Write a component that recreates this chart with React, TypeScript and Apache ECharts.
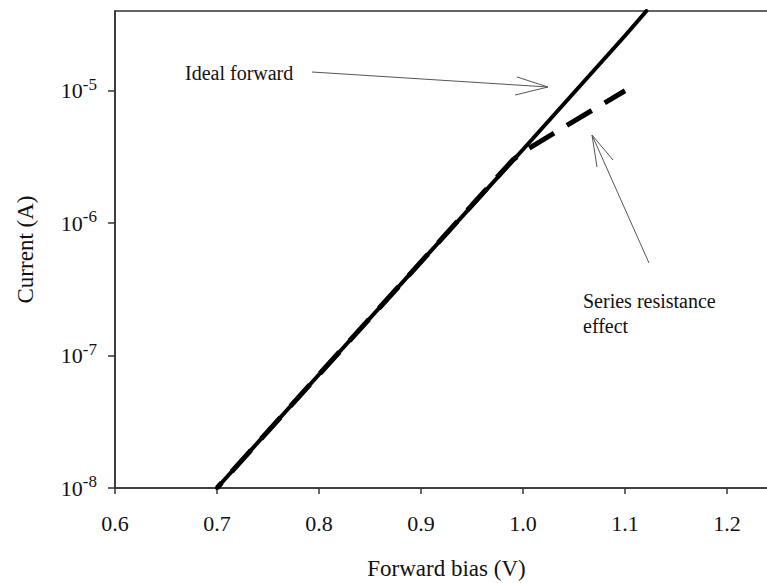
import React, { useEffect, useRef } from "react";
import * as echarts from "echarts";

// Forward bias (V) and diode current (A)
const idealBias = [0.7, 0.8, 0.9, 1.0, 1.1, 1.121];
const idealCurrent = [1e-8, 7.2e-8, 5.1e-7, 3.6e-6, 2.6e-5, 4.0e-5];

const resistiveBias = [0.7, 0.8, 0.9, 0.95, 0.99, 1.0, 1.05, 1.1];
const resistiveCurrent = [1e-8, 7.2e-8, 5.1e-7, 1.37e-6, 3.0e-6, 3.45e-6, 5.9e-6, 1e-5];

const currentTicks = [1e-8, 1e-7, 1e-6, 1e-5];

const FONT = "Liberation Serif, Times New Roman, serif";
const AXIS_COLOR = "#333";
const ARROW_COLOR = "#555";

const pairs = (xs: number[], ys: number[]) => xs.map((x, i) => [x, ys[i]]);

export default function App() {
  const ref = useRef<HTMLDivElement>(null);

  useEffect(() => {
    if (!ref.current) return;
    const chart = echarts.init(ref.current, null, { renderer: "svg" });

    const arrow = (tail: number[], tip: number[], h1: number[], h2: number[]) => ({
      type: "group",
      children: [
        {
          type: "line",
          shape: { x1: tail[0], y1: tail[1], x2: tip[0], y2: tip[1] },
          style: { stroke: ARROW_COLOR, lineWidth: 1 },
        },
        {
          type: "polyline",
          shape: { points: [h1, tip, h2] },
          style: { stroke: ARROW_COLOR, lineWidth: 1, fill: "none" },
        },
      ],
    });

    const note = (text: string, x: number, y: number) => ({
      type: "text",
      x,
      y,
      style: {
        text,
        fontFamily: FONT,
        fontSize: 20,
        fill: "#111",
        verticalAlign: "middle",
      },
    });

    chart.setOption({
      animation: false,
      backgroundColor: "#fff",
      grid: {
        left: 115,
        top: 11,
        right: -11,
        bottom: 95,
        outerBoundsMode: "none",
        containLabel: false,
        show: true,
        borderColor: AXIS_COLOR,
        borderWidth: 1.5,
        backgroundColor: "transparent",
      },
      xAxis: {
        type: "value",
        min: 0.6,
        max: 1.25,
        interval: 0.1,
        name: "Forward bias (V)",
        nameLocation: "middle",
        nameGap: 69,
        nameTextStyle: { fontFamily: FONT, fontSize: 23, color: "#111" },
        axisLine: { show: true, lineStyle: { color: AXIS_COLOR, width: 1.5 } },
        axisTick: { show: true, inside: false, length: 6, lineStyle: { color: AXIS_COLOR, width: 1.5 } },
        axisLabel: {
          margin: 24,
          fontFamily: FONT,
          fontSize: 22,
          color: "#111",
          showMaxLabel: false,
          formatter: (v: number) => v.toFixed(1),
        },
        splitLine: { show: false },
      },
      yAxis: {
        type: "log",
        logBase: 10,
        min: 1e-8,
        max: 4e-5,
        name: "Current (A)",
        nameLocation: "middle",
        nameGap: 78,
        nameTextStyle: { fontFamily: FONT, fontSize: 23, color: "#111" },
        axisLine: { show: true, lineStyle: { color: AXIS_COLOR, width: 1.5 } },
        axisTick: {
          show: true,
          inside: false,
          length: 7,
          customValues: currentTicks,
          lineStyle: { color: AXIS_COLOR, width: 1.5 },
        },
        axisLabel: {
          margin: 18,
          customValues: currentTicks,
          color: "#111",
          fontFamily: FONT,
          formatter: (v: number) => `{b|10}{s|${Math.round(Math.log10(v))}}`,
          rich: {
            b: { fontFamily: FONT, fontSize: 22, lineHeight: 30, color: "#111" },
            s: { fontFamily: FONT, fontSize: 17, lineHeight: 17, verticalAlign: "top", color: "#111" },
          },
        },
        splitLine: { show: false },
      },
      series: [
        {
          name: "Ideal forward",
          type: "line",
          data: pairs(idealBias, idealCurrent),
          showSymbol: false,
          lineStyle: { color: "#000", width: 4, cap: "round" },
          z: 3,
        },
        {
          name: "Series resistance effect",
          type: "line",
          data: pairs(resistiveBias, resistiveCurrent),
          showSymbol: false,
          lineStyle: { color: "#000", width: 5, type: [29, 15], dashOffset: 22 },
          z: 4,
        },
      ],
      graphic: [
        note("Ideal forward", 185, 73.4),
        arrow([312, 72], [548, 87], [517, 77], [515, 95]),
        note("Series resistance", 583, 301.4),
        note("effect", 583, 326.4),
        arrow([649, 263], [592, 135], [597, 167], [613, 160]),
      ],
    });

    return () => chart.dispose();
  }, []);

  return (
    <div
      ref={ref}
      style={{ position: "fixed", left: 0, top: 0, width: 767, height: 583, background: "#fff" }}
    />
  );
}
